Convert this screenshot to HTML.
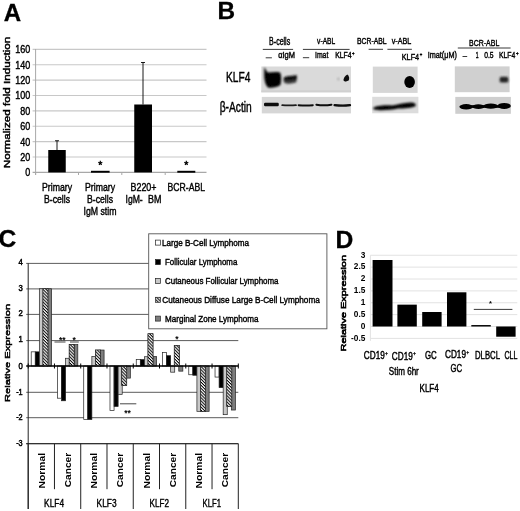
<!DOCTYPE html>
<html><head><meta charset="utf-8"><title>Figure</title>
<style>html,body{margin:0;padding:0;background:#fff;}svg{display:block;font-family:'Liberation Sans', sans-serif;}</style>
</head><body>
<svg width="520" height="511" viewBox="0 0 520 511">
<defs>
<pattern id="hatch" width="2.2" height="2.2" patternUnits="userSpaceOnUse" patternTransform="rotate(45)"><rect width="2.2" height="2.2" fill="#fff"/><rect width="2.2" height="1.0" fill="#000"/></pattern>
<filter id="gb2" x="-10%" y="-10%" width="120%" height="120%"><feGaussianBlur stdDeviation="0.28"/></filter>
<filter id="b1" x="-30%" y="-30%" width="160%" height="160%"><feGaussianBlur stdDeviation="1.1"/></filter>
<filter id="b2" x="-30%" y="-50%" width="160%" height="200%"><feGaussianBlur stdDeviation="0.7"/></filter>
<filter id="b3" x="-30%" y="-30%" width="160%" height="160%"><feGaussianBlur stdDeviation="1.8"/></filter>
<filter id="gb" x="0" y="0" width="100%" height="100%"><feGaussianBlur stdDeviation="0.45"/></filter>
</defs>
<rect width="520" height="511" fill="#fff"/>
<g filter="url(#gb)">
<rect width="520" height="511" fill="#fff"/>
<text x="3.8" y="21.01" font-size="23.5" text-anchor="start" font-weight="bold" textLength="17.4" lengthAdjust="spacingAndGlyphs" fill="#000" stroke="#000" stroke-width="0.3">A</text>
<text x="217.6" y="19.41" font-size="23.5" text-anchor="start" font-weight="bold" textLength="17.6" lengthAdjust="spacingAndGlyphs" fill="#000" stroke="#000" stroke-width="0.3">B</text>
<text x="-1.4" y="246.51" font-size="23.5" text-anchor="start" font-weight="bold" textLength="17.8" lengthAdjust="spacingAndGlyphs" fill="#000" stroke="#000" stroke-width="0.3">C</text>
<text x="335.4" y="247.61" font-size="23.5" text-anchor="start" font-weight="bold" textLength="17.8" lengthAdjust="spacingAndGlyphs" fill="#000" stroke="#000" stroke-width="0.3">D</text>
<line x1="32.6" y1="172.35" x2="206.5" y2="172.35" stroke="#a8a8a8" stroke-width="1.1"/>
<text x="25.2" y="176.29" font-size="11" text-anchor="start" textLength="5.0" lengthAdjust="spacingAndGlyphs" fill="#000" stroke="#000" stroke-width="0.42">0</text>
<line x1="32.6" y1="156.97" x2="206.5" y2="156.97" stroke="#c8c8c8" stroke-width="1.1"/>
<text x="20.2" y="160.91" font-size="11" text-anchor="start" textLength="10.0" lengthAdjust="spacingAndGlyphs" fill="#000" stroke="#000" stroke-width="0.42">20</text>
<line x1="32.6" y1="141.60" x2="206.5" y2="141.60" stroke="#c8c8c8" stroke-width="1.1"/>
<text x="20.2" y="145.54" font-size="11" text-anchor="start" textLength="10.0" lengthAdjust="spacingAndGlyphs" fill="#000" stroke="#000" stroke-width="0.42">40</text>
<line x1="32.6" y1="126.22" x2="206.5" y2="126.22" stroke="#c8c8c8" stroke-width="1.1"/>
<text x="20.2" y="130.16" font-size="11" text-anchor="start" textLength="10.0" lengthAdjust="spacingAndGlyphs" fill="#000" stroke="#000" stroke-width="0.42">60</text>
<line x1="32.6" y1="110.85" x2="206.5" y2="110.85" stroke="#c8c8c8" stroke-width="1.1"/>
<text x="20.2" y="114.79" font-size="11" text-anchor="start" textLength="10.0" lengthAdjust="spacingAndGlyphs" fill="#000" stroke="#000" stroke-width="0.42">80</text>
<line x1="32.6" y1="95.47" x2="206.5" y2="95.47" stroke="#c8c8c8" stroke-width="1.1"/>
<text x="15.2" y="99.41" font-size="11" text-anchor="start" textLength="15.0" lengthAdjust="spacingAndGlyphs" fill="#000" stroke="#000" stroke-width="0.42">100</text>
<line x1="32.6" y1="80.10" x2="206.5" y2="80.10" stroke="#c8c8c8" stroke-width="1.1"/>
<text x="15.2" y="84.04" font-size="11" text-anchor="start" textLength="15.0" lengthAdjust="spacingAndGlyphs" fill="#000" stroke="#000" stroke-width="0.42">120</text>
<line x1="32.6" y1="64.72" x2="206.5" y2="64.72" stroke="#c8c8c8" stroke-width="1.1"/>
<text x="15.2" y="68.66" font-size="11" text-anchor="start" textLength="15.0" lengthAdjust="spacingAndGlyphs" fill="#000" stroke="#000" stroke-width="0.42">140</text>
<line x1="32.6" y1="49.35" x2="206.5" y2="49.35" stroke="#c8c8c8" stroke-width="1.1"/>
<text x="15.2" y="53.29" font-size="11" text-anchor="start" textLength="15.0" lengthAdjust="spacingAndGlyphs" fill="#000" stroke="#000" stroke-width="0.42">160</text>
<line x1="35.6" y1="49" x2="35.6" y2="175" stroke="#a8a8a8" stroke-width="1"/>
<line x1="35.6" y1="172" x2="35.6" y2="175" stroke="#a8a8a8" stroke-width="1"/>
<line x1="78.5" y1="172" x2="78.5" y2="175" stroke="#a8a8a8" stroke-width="1"/>
<line x1="121.8" y1="172" x2="121.8" y2="175" stroke="#a8a8a8" stroke-width="1"/>
<line x1="165.2" y1="172" x2="165.2" y2="175" stroke="#a8a8a8" stroke-width="1"/>
<rect x="48.25" y="150.00" width="17.50" height="22.40" fill="#000"/>
<line x1="57" y1="140.75" x2="57" y2="150" stroke="#000" stroke-width="0.9"/>
<line x1="55" y1="140.75" x2="59" y2="140.75" stroke="#000" stroke-width="0.9"/>
<rect x="91.00" y="170.80" width="18.60" height="1.90" fill="#000"/>
<rect x="134.25" y="104.50" width="17.75" height="67.90" fill="#000"/>
<line x1="143" y1="62.5" x2="143" y2="104.5" stroke="#000" stroke-width="0.9"/>
<line x1="141" y1="62.5" x2="145" y2="62.5" stroke="#000" stroke-width="0.9"/>
<rect x="177.30" y="170.80" width="18.00" height="1.90" fill="#000"/>
<text x="100.4" y="168.86" font-size="10.5" text-anchor="middle" fill="#000" stroke="#000" stroke-width="0.5">*</text>
<text x="186.4" y="168.56" font-size="10.5" text-anchor="middle" fill="#000" stroke="#000" stroke-width="0.5">*</text>
<text transform="translate(10.04,168.2) rotate(-90)" font-size="8.2" textLength="131.5" lengthAdjust="spacingAndGlyphs" fill="#000" stroke="#000" stroke-width="0.42">Normalized fold Induction</text>
<text x="42" y="190.94" font-size="11" text-anchor="start" textLength="30" lengthAdjust="spacingAndGlyphs" fill="#000" stroke="#000" stroke-width="0.42">Primary</text>
<text x="44" y="203.14" font-size="11" text-anchor="start" textLength="26" lengthAdjust="spacingAndGlyphs" fill="#000" stroke="#000" stroke-width="0.42">B-cells</text>
<text x="85" y="190.94" font-size="11" text-anchor="start" textLength="30" lengthAdjust="spacingAndGlyphs" fill="#000" stroke="#000" stroke-width="0.42">Primary</text>
<text x="87" y="203.14" font-size="11" text-anchor="start" textLength="26" lengthAdjust="spacingAndGlyphs" fill="#000" stroke="#000" stroke-width="0.42">B-cells</text>
<text x="83.5" y="215.24" font-size="11" text-anchor="start" textLength="33" lengthAdjust="spacingAndGlyphs" fill="#000" stroke="#000" stroke-width="0.42">IgM stim</text>
<text x="130.5" y="190.64" font-size="11" text-anchor="start" textLength="26" lengthAdjust="spacingAndGlyphs" fill="#000" stroke="#000" stroke-width="0.42">B220+</text>
<text x="125.5" y="202.94" font-size="11" text-anchor="start" textLength="17.2" lengthAdjust="spacingAndGlyphs" fill="#000" stroke="#000" stroke-width="0.42">IgM-</text>
<text x="148" y="202.94" font-size="11" text-anchor="start" textLength="13.4" lengthAdjust="spacingAndGlyphs" fill="#000" stroke="#000" stroke-width="0.42">BM</text>
<text x="167.5" y="190.64" font-size="11" text-anchor="start" textLength="37.5" lengthAdjust="spacingAndGlyphs" fill="#000" stroke="#000" stroke-width="0.42">BCR-ABL</text>
<text x="269.1" y="44.68" font-size="10" text-anchor="start" textLength="21.1" lengthAdjust="spacingAndGlyphs" fill="#000" stroke="#000" stroke-width="0.42">B-cells</text>
<line x1="262.8" y1="49.4" x2="293.1" y2="49.4" stroke="#222" stroke-width="0.9"/>
<text x="317.1" y="43.79" font-size="9.2" text-anchor="start" textLength="18.1" lengthAdjust="spacingAndGlyphs" fill="#000" stroke="#000" stroke-width="0.42">v-ABL</text>
<line x1="302.9" y1="49.4" x2="349.6" y2="49.4" stroke="#222" stroke-width="0.9"/>
<line x1="265.7" y1="57.8" x2="271.9" y2="57.8" stroke="#222" stroke-width="0.9"/>
<text x="278.2" y="58.22" font-size="9" text-anchor="start" textLength="16.8" lengthAdjust="spacingAndGlyphs" fill="#000" stroke="#000" stroke-width="0.42">&#945;IgM</text>
<line x1="302.9" y1="57.7" x2="309.2" y2="57.7" stroke="#222" stroke-width="0.9"/>
<text x="315" y="58.02" font-size="9" text-anchor="start" textLength="13.3" lengthAdjust="spacingAndGlyphs" fill="#000" stroke="#000" stroke-width="0.42">Imat</text>
<text x="335.2" y="58.02" font-size="9" text-anchor="start" textLength="16.4" lengthAdjust="spacingAndGlyphs" fill="#000" stroke="#000" stroke-width="0.42">KLF4</text>
<text x="351.9" y="54.95" font-size="6" text-anchor="start" textLength="2.5" lengthAdjust="spacingAndGlyphs" fill="#000" stroke="#000" stroke-width="0.42">+</text>
<text x="357" y="44.29" font-size="9.2" text-anchor="start" textLength="29.6" lengthAdjust="spacingAndGlyphs" fill="#000" stroke="#000" stroke-width="0.42">BCR-ABL</text>
<line x1="368.6" y1="49.3" x2="383" y2="49.3" stroke="#222" stroke-width="0.9"/>
<text x="391.7" y="43.99" font-size="9.2" text-anchor="start" textLength="19.5" lengthAdjust="spacingAndGlyphs" fill="#000" stroke="#000" stroke-width="0.42">v-ABL</text>
<line x1="387.4" y1="49.3" x2="411.9" y2="49.3" stroke="#222" stroke-width="0.9"/>
<text x="401.8" y="59.59" font-size="9.2" text-anchor="start" textLength="17.3" lengthAdjust="spacingAndGlyphs" fill="#000" stroke="#000" stroke-width="0.42">KLF4</text>
<text x="419.8" y="56.05" font-size="6" text-anchor="start" textLength="2.5" lengthAdjust="spacingAndGlyphs" fill="#000" stroke="#000" stroke-width="0.42">+</text>
<text x="469.1" y="46.09" font-size="9.2" text-anchor="start" textLength="30.2" lengthAdjust="spacingAndGlyphs" fill="#000" stroke="#000" stroke-width="0.42">BCR-ABL</text>
<line x1="457.8" y1="48" x2="510.6" y2="48" stroke="#222" stroke-width="0.9"/>
<text x="427.7" y="58.39" font-size="9.2" text-anchor="start" textLength="29.2" lengthAdjust="spacingAndGlyphs" fill="#000" stroke="#000" stroke-width="0.42">Imat(&#956;M)</text>
<line x1="462.5" y1="56.5" x2="467.2" y2="56.5" stroke="#222" stroke-width="0.9"/>
<text x="475.7" y="58.39" font-size="9.2" text-anchor="start" textLength="2.8" lengthAdjust="spacingAndGlyphs" fill="#000" stroke="#000" stroke-width="0.42">1</text>
<text x="484.2" y="58.39" font-size="9.2" text-anchor="start" textLength="9.4" lengthAdjust="spacingAndGlyphs" fill="#000" stroke="#000" stroke-width="0.42">0.5</text>
<text x="498.9" y="58.39" font-size="9.2" text-anchor="start" textLength="16.4" lengthAdjust="spacingAndGlyphs" fill="#000" stroke="#000" stroke-width="0.42">KLF4</text>
<text x="515.9" y="55.25" font-size="6" text-anchor="start" textLength="2.6" lengthAdjust="spacingAndGlyphs" fill="#000" stroke="#000" stroke-width="0.42">+</text>
<text x="226.1" y="82.49" font-size="14.5" text-anchor="start" textLength="24.3" lengthAdjust="spacingAndGlyphs" fill="#000" stroke="#000" stroke-width="0.42">KLF4</text>
<text x="219.7" y="111.81" font-size="14" text-anchor="start" textLength="32.1" lengthAdjust="spacingAndGlyphs" fill="#000" stroke="#000" stroke-width="0.42">&#946;-Actin</text>
<rect x="261.30" y="66.50" width="89.70" height="25.80" fill="#dadada"/>
<rect x="261.80" y="96.90" width="89.20" height="16.50" fill="#d6d6d6"/>
<rect x="261.30" y="90.30" width="89.70" height="2.00" fill="#d0d0d0"/>
<g filter="url(#b1)">
<path d="M264.2,67.2 C265.6,68.5 266.6,72.2 268.2,72.6 C272,72.2 277,71.6 280,72.6 C281.6,75 281.4,82 280.4,85 C277,87.2 271,88.4 268,87.4 C265.4,85.4 264.4,80 264.2,76 Z" fill="#000"/>
<ellipse cx="272.6" cy="79.8" rx="7.6" ry="6.6" fill="#000"/>
</g>
<g filter="url(#b1)">
<path d="M283.6,77.4 C287,76 292,76.2 296.8,75.2 C297.2,78 296.6,81 296,82.6 C292,84 287,84 284.4,83 C283.4,81 283.2,79 283.6,77.4 Z" fill="#3a3a3a"/>
<path d="M284,77.4 C287,76 292,76.2 296.6,75.3 C296.8,77 296.6,78.6 296.2,79.6 C292,80.6 287.5,80.8 284.2,80.2 Z" fill="#0a0a0a"/>
</g>
<g filter="url(#b2)"><path d="M347.4,74.6 C349.2,76 349.8,79 348.6,80.6 C346.8,81.8 344.4,81.6 343.6,80.4 C343.2,78.6 345.4,75.6 347.4,74.6 Z" fill="#0a0a0a"/></g>
<g filter="url(#b1)"><ellipse cx="338.4" cy="79" rx="0.9" ry="1.3" fill="#999"/></g>
<g filter="url(#b2)">
<rect x="264.00" y="102.70" width="14.80" height="3.60" fill="#0c0c0c" rx="1.2"/>
<path d="M282.2,105.2 Q289.1,105.60000000000001 296,105.2" stroke="#1a1a1a" stroke-width="1.7" fill="none" stroke-linecap="round"/>
<path d="M298.6,105.15 Q305.70000000000005,105.85 312.8,105.15" stroke="#111" stroke-width="2.0" fill="none" stroke-linecap="round"/>
<path d="M316.4,104.75 Q323.9,105.85 331.4,104.75" stroke="#111" stroke-width="2.1" fill="none" stroke-linecap="round"/>
<path d="M334.6,105.2 Q342.3,106.2 350,105.2" stroke="#0c0c0c" stroke-width="2.3" fill="none" stroke-linecap="round"/>
</g>
<rect x="372.80" y="66.60" width="44.80" height="26.30" fill="#d6d6d6"/>
<rect x="372.20" y="96.80" width="46.20" height="16.50" fill="#dcdcdc"/>
<g filter="url(#b2)"><ellipse cx="409.6" cy="81.9" rx="5.3" ry="6" fill="#000"/></g>
<g filter="url(#b1)">
<path d="M373.6,107.4 C378,105.4 386,105.2 392,105.4 C398,105 404,102.2 412,102.6 C415,103 416.4,104.6 415.6,106 C412,108 404,108.4 398,108.6 C392,110 380,110.8 375,109.8 C373,109.2 372.8,108 373.6,107.4 Z" fill="#050505"/>
</g>
<rect x="454.80" y="66.40" width="54.80" height="25.80" fill="#d0d0d0"/>
<rect x="455.30" y="96.90" width="55.60" height="16.90" fill="#cecece"/>
<g filter="url(#b1)"><rect x="499.6" y="76.8" width="8.8" height="5.8" rx="2.2" fill="#202020"/></g>
<g filter="url(#b2)">
<ellipse cx="466.2" cy="106.8" rx="6.8" ry="2.7" fill="#000"/>
<ellipse cx="478.4" cy="106.6" rx="6.2" ry="2.4" fill="#000"/>
<ellipse cx="490.8" cy="106.2" rx="7.2" ry="2.6" fill="#000"/>
<ellipse cx="504.2" cy="105.9" rx="6.6" ry="3.0" fill="#000"/>
<rect x="464.00" y="105.20" width="42.00" height="2.60" fill="#000"/>
</g>
<line x1="26.2" y1="263.40" x2="238.3" y2="263.40" stroke="#4a4a4a" stroke-width="0.9"/>
<line x1="26.2" y1="288.90" x2="238.3" y2="288.90" stroke="#4a4a4a" stroke-width="0.9"/>
<line x1="26.2" y1="314.40" x2="238.3" y2="314.40" stroke="#4a4a4a" stroke-width="0.9"/>
<line x1="26.2" y1="340.60" x2="238.3" y2="340.60" stroke="#4a4a4a" stroke-width="0.9"/>
<line x1="26.2" y1="392.30" x2="238.3" y2="392.30" stroke="#4a4a4a" stroke-width="0.9"/>
<line x1="26.2" y1="417.70" x2="238.3" y2="417.70" stroke="#4a4a4a" stroke-width="0.9"/>
<line x1="26.2" y1="443.70" x2="238.3" y2="443.70" stroke="#4a4a4a" stroke-width="0.9"/>
<text x="18.4" y="265.23" font-size="9.3" text-anchor="start" textLength="4.3" lengthAdjust="spacingAndGlyphs" fill="#000" stroke="#000" stroke-width="0.5">4</text>
<text x="18.4" y="290.73" font-size="9.3" text-anchor="start" textLength="4.3" lengthAdjust="spacingAndGlyphs" fill="#000" stroke="#000" stroke-width="0.5">3</text>
<text x="18.4" y="316.23" font-size="9.3" text-anchor="start" textLength="4.3" lengthAdjust="spacingAndGlyphs" fill="#000" stroke="#000" stroke-width="0.5">2</text>
<text x="18.4" y="342.43" font-size="9.3" text-anchor="start" textLength="4.3" lengthAdjust="spacingAndGlyphs" fill="#000" stroke="#000" stroke-width="0.5">1</text>
<text x="18.4" y="368.53" font-size="9.3" text-anchor="start" textLength="4.3" lengthAdjust="spacingAndGlyphs" fill="#000" stroke="#000" stroke-width="0.5">0</text>
<text x="16.2" y="394.83" font-size="9.3" text-anchor="start" textLength="6.5" lengthAdjust="spacingAndGlyphs" fill="#000" stroke="#000" stroke-width="0.5">-1</text>
<text x="16.2" y="420.23" font-size="9.3" text-anchor="start" textLength="6.5" lengthAdjust="spacingAndGlyphs" fill="#000" stroke="#000" stroke-width="0.5">-2</text>
<text x="16.2" y="446.23" font-size="9.3" text-anchor="start" textLength="6.5" lengthAdjust="spacingAndGlyphs" fill="#000" stroke="#000" stroke-width="0.5">-3</text>
<line x1="28.2" y1="263.4" x2="28.2" y2="509" stroke="#222" stroke-width="1"/>
<rect x="31.20" y="351.84" width="4.07" height="14.16" fill="#fff" stroke="#222" stroke-width="0.7"/>
<rect x="35.27" y="351.84" width="4.07" height="14.16" fill="#000" stroke="#222" stroke-width="0.7"/>
<rect x="39.34" y="288.75" width="4.07" height="77.25" fill="#c8c8c8" stroke="#222" stroke-width="0.7"/>
<rect x="47.48" y="288.75" width="4.07" height="77.25" fill="#7d7d7d" stroke="#222" stroke-width="0.7"/>
<rect x="42.96" y="288.75" width="4.97" height="77.25" fill="#999" stroke="#222" stroke-width="0.7"/>
<rect x="57.46" y="366.00" width="4.07" height="32.19" fill="#fff" stroke="#222" stroke-width="0.7"/>
<rect x="61.53" y="366.00" width="4.07" height="34.76" fill="#000" stroke="#222" stroke-width="0.7"/>
<rect x="65.60" y="358.27" width="4.07" height="7.73" fill="#c8c8c8" stroke="#222" stroke-width="0.7"/>
<rect x="73.74" y="344.63" width="4.07" height="21.37" fill="#7d7d7d" stroke="#222" stroke-width="0.7"/>
<rect x="69.22" y="344.63" width="4.97" height="21.37" fill="#999" stroke="#222" stroke-width="0.7"/>
<rect x="83.73" y="366.00" width="4.07" height="53.56" fill="#fff" stroke="#222" stroke-width="0.7"/>
<rect x="87.80" y="366.00" width="4.07" height="53.56" fill="#000" stroke="#222" stroke-width="0.7"/>
<rect x="91.87" y="356.47" width="4.07" height="9.53" fill="#c8c8c8" stroke="#222" stroke-width="0.7"/>
<rect x="100.01" y="350.04" width="4.07" height="15.96" fill="#7d7d7d" stroke="#222" stroke-width="0.7"/>
<rect x="95.48" y="350.04" width="4.97" height="15.96" fill="#999" stroke="#222" stroke-width="0.7"/>
<rect x="109.99" y="366.00" width="4.07" height="44.55" fill="#fff" stroke="#222" stroke-width="0.7"/>
<rect x="114.06" y="366.00" width="4.07" height="40.43" fill="#000" stroke="#222" stroke-width="0.7"/>
<rect x="118.13" y="366.00" width="4.07" height="28.32" fill="#c8c8c8" stroke="#222" stroke-width="0.7"/>
<rect x="126.27" y="366.00" width="4.07" height="12.10" fill="#7d7d7d" stroke="#222" stroke-width="0.7"/>
<rect x="121.75" y="366.00" width="4.97" height="19.31" fill="#999" stroke="#222" stroke-width="0.7"/>
<rect x="136.25" y="359.56" width="4.07" height="6.44" fill="#fff" stroke="#222" stroke-width="0.7"/>
<rect x="140.32" y="359.56" width="4.07" height="6.44" fill="#000" stroke="#222" stroke-width="0.7"/>
<rect x="144.39" y="356.73" width="4.07" height="9.27" fill="#c8c8c8" stroke="#222" stroke-width="0.7"/>
<rect x="152.53" y="356.47" width="4.07" height="9.53" fill="#7d7d7d" stroke="#222" stroke-width="0.7"/>
<rect x="148.01" y="333.81" width="4.97" height="32.19" fill="#999" stroke="#222" stroke-width="0.7"/>
<rect x="162.51" y="352.61" width="4.07" height="13.39" fill="#fff" stroke="#222" stroke-width="0.7"/>
<rect x="166.58" y="355.70" width="4.07" height="10.30" fill="#000" stroke="#222" stroke-width="0.7"/>
<rect x="170.65" y="366.00" width="4.07" height="6.18" fill="#c8c8c8" stroke="#222" stroke-width="0.7"/>
<rect x="178.79" y="366.00" width="4.07" height="5.15" fill="#7d7d7d" stroke="#222" stroke-width="0.7"/>
<rect x="174.27" y="345.40" width="4.97" height="20.60" fill="#999" stroke="#222" stroke-width="0.7"/>
<rect x="188.78" y="366.00" width="4.07" height="8.75" fill="#fff" stroke="#222" stroke-width="0.7"/>
<rect x="192.84" y="366.00" width="4.07" height="9.27" fill="#000" stroke="#222" stroke-width="0.7"/>
<rect x="196.92" y="366.00" width="4.07" height="45.32" fill="#c8c8c8" stroke="#222" stroke-width="0.7"/>
<rect x="205.06" y="366.00" width="4.07" height="45.32" fill="#7d7d7d" stroke="#222" stroke-width="0.7"/>
<rect x="200.54" y="366.00" width="4.97" height="45.32" fill="#999" stroke="#222" stroke-width="0.7"/>
<rect x="215.04" y="366.00" width="4.07" height="11.07" fill="#fff" stroke="#222" stroke-width="0.7"/>
<rect x="219.11" y="366.00" width="4.07" height="21.63" fill="#000" stroke="#222" stroke-width="0.7"/>
<rect x="223.18" y="366.00" width="4.07" height="48.67" fill="#c8c8c8" stroke="#222" stroke-width="0.7"/>
<rect x="231.32" y="366.00" width="4.07" height="44.03" fill="#7d7d7d" stroke="#222" stroke-width="0.7"/>
<rect x="226.80" y="366.00" width="4.97" height="40.43" fill="#999" stroke="#222" stroke-width="0.7"/>
<line x1="26.2" y1="366" x2="238.3" y2="366" stroke="#000" stroke-width="1.5"/>
<line x1="28.20" y1="363.5" x2="28.20" y2="368.5" stroke="#000" stroke-width="1"/>
<line x1="54.46" y1="363.5" x2="54.46" y2="368.5" stroke="#000" stroke-width="1"/>
<line x1="80.73" y1="363.5" x2="80.73" y2="368.5" stroke="#000" stroke-width="1"/>
<line x1="106.99" y1="363.5" x2="106.99" y2="368.5" stroke="#000" stroke-width="1"/>
<line x1="133.25" y1="363.5" x2="133.25" y2="368.5" stroke="#000" stroke-width="1"/>
<line x1="159.51" y1="363.5" x2="159.51" y2="368.5" stroke="#000" stroke-width="1"/>
<line x1="185.78" y1="363.5" x2="185.78" y2="368.5" stroke="#000" stroke-width="1"/>
<line x1="212.04" y1="363.5" x2="212.04" y2="368.5" stroke="#000" stroke-width="1"/>
<line x1="238.30" y1="363.5" x2="238.30" y2="368.5" stroke="#000" stroke-width="1"/>
<line x1="26.2" y1="443.7" x2="238.3" y2="443.7" stroke="#222" stroke-width="1"/>
<line x1="28.20" y1="443.7" x2="28.20" y2="509" stroke="#222" stroke-width="1"/>
<line x1="54.46" y1="443.7" x2="54.46" y2="489.2" stroke="#222" stroke-width="1"/>
<line x1="80.73" y1="443.7" x2="80.73" y2="509" stroke="#222" stroke-width="1"/>
<line x1="106.99" y1="443.7" x2="106.99" y2="489.2" stroke="#222" stroke-width="1"/>
<line x1="133.25" y1="443.7" x2="133.25" y2="509" stroke="#222" stroke-width="1"/>
<line x1="159.51" y1="443.7" x2="159.51" y2="489.2" stroke="#222" stroke-width="1"/>
<line x1="185.78" y1="443.7" x2="185.78" y2="509" stroke="#222" stroke-width="1"/>
<line x1="212.04" y1="443.7" x2="212.04" y2="489.2" stroke="#222" stroke-width="1"/>
<line x1="238.30" y1="443.7" x2="238.30" y2="509" stroke="#222" stroke-width="1"/>
<text transform="translate(44.54,488.5) rotate(-90)" font-size="9.8" font-weight="bold" textLength="35.5" lengthAdjust="spacingAndGlyphs" fill="#000">Normal</text>
<text transform="translate(70.80,487.2) rotate(-90)" font-size="9.8" font-weight="bold" textLength="34.3" lengthAdjust="spacingAndGlyphs" fill="#000">Cancer</text>
<text transform="translate(97.06,488.5) rotate(-90)" font-size="9.8" font-weight="bold" textLength="35.5" lengthAdjust="spacingAndGlyphs" fill="#000">Normal</text>
<text transform="translate(123.33,487.2) rotate(-90)" font-size="9.8" font-weight="bold" textLength="34.3" lengthAdjust="spacingAndGlyphs" fill="#000">Cancer</text>
<text transform="translate(149.59,488.5) rotate(-90)" font-size="9.8" font-weight="bold" textLength="35.5" lengthAdjust="spacingAndGlyphs" fill="#000">Normal</text>
<text transform="translate(175.85,487.2) rotate(-90)" font-size="9.8" font-weight="bold" textLength="34.3" lengthAdjust="spacingAndGlyphs" fill="#000">Cancer</text>
<text transform="translate(202.11,488.5) rotate(-90)" font-size="9.8" font-weight="bold" textLength="35.5" lengthAdjust="spacingAndGlyphs" fill="#000">Normal</text>
<text transform="translate(228.38,487.2) rotate(-90)" font-size="9.8" font-weight="bold" textLength="34.3" lengthAdjust="spacingAndGlyphs" fill="#000">Cancer</text>
<text x="44.1" y="507.17" font-size="10.8" text-anchor="start" textLength="20" lengthAdjust="spacingAndGlyphs" fill="#000" stroke="#000" stroke-width="0.4">KLF4</text>
<text x="96.6" y="507.17" font-size="10.8" text-anchor="start" textLength="20" lengthAdjust="spacingAndGlyphs" fill="#000" stroke="#000" stroke-width="0.4">KLF3</text>
<text x="149.6" y="507.17" font-size="10.8" text-anchor="start" textLength="19.5" lengthAdjust="spacingAndGlyphs" fill="#000" stroke="#000" stroke-width="0.4">KLF2</text>
<text x="202.6" y="507.17" font-size="10.8" text-anchor="start" textLength="18.5" lengthAdjust="spacingAndGlyphs" fill="#000" stroke="#000" stroke-width="0.4">KLF1</text>
<text transform="translate(10.29,401.9) rotate(-90)" font-size="7.8" textLength="98" lengthAdjust="spacingAndGlyphs" fill="#000" stroke="#000" stroke-width="0.45">Relative Expression</text>
<text x="62.2" y="342.64" font-size="8.5" text-anchor="middle" font-weight="bold" fill="#000">**</text>
<line x1="54.5" y1="342" x2="65.5" y2="342" stroke="#333" stroke-width="0.9"/>
<text x="74.2" y="342.64" font-size="8.5" text-anchor="middle" font-weight="bold" fill="#000">*</text>
<line x1="70" y1="342" x2="78.8" y2="342" stroke="#333" stroke-width="0.9"/>
<text x="127.5" y="415.64" font-size="8.5" text-anchor="middle" font-weight="bold" fill="#000">**</text>
<line x1="120" y1="403.8" x2="136.3" y2="403.8" stroke="#333" stroke-width="0.9"/>
<text x="176.8" y="342.44" font-size="8.5" text-anchor="middle" font-weight="bold" fill="#000">*</text>
<rect x="148.70" y="233.80" width="178.20" height="95.00" fill="#fff" stroke="#555" stroke-width="0.9"/>
<rect x="155.60" y="240.10" width="4.80" height="5.00" fill="#fff" stroke="#222" stroke-width="0.7"/>
<text x="162" y="245.74" font-size="9.6" text-anchor="start" textLength="87" lengthAdjust="spacingAndGlyphs" fill="#000" stroke="#000" stroke-width="0.42">Large B-Cell Lymphoma</text>
<rect x="155.60" y="259.60" width="4.80" height="5.00" fill="#000" stroke="#222" stroke-width="0.7"/>
<text x="165" y="265.24" font-size="9.6" text-anchor="start" textLength="72.3" lengthAdjust="spacingAndGlyphs" fill="#000" stroke="#000" stroke-width="0.42">Follicular Lymphoma</text>
<rect x="155.60" y="278.40" width="4.80" height="5.00" fill="#c8c8c8" stroke="#222" stroke-width="0.7"/>
<text x="165" y="284.04" font-size="9.6" text-anchor="start" textLength="113.5" lengthAdjust="spacingAndGlyphs" fill="#000" stroke="#000" stroke-width="0.42">Cutaneous Follicular Lymphoma</text>
<rect x="155.60" y="297.30" width="4.80" height="5.00" fill="url(#hatch)" stroke="#222" stroke-width="0.7"/>
<text x="162.3" y="302.94" font-size="9.6" text-anchor="start" textLength="157.5" lengthAdjust="spacingAndGlyphs" fill="#000" stroke="#000" stroke-width="0.42">Cutaneous Diffuse Large B-Cell Lymphoma</text>
<rect x="155.60" y="316.10" width="4.80" height="5.00" fill="#7d7d7d" stroke="#222" stroke-width="0.7"/>
<text x="165" y="321.74" font-size="9.6" text-anchor="start" textLength="93.5" lengthAdjust="spacingAndGlyphs" fill="#000" stroke="#000" stroke-width="0.42">Marginal Zone Lymphoma</text>
<line x1="370.4" y1="255.25" x2="517.3" y2="255.25" stroke="#e2e2e2" stroke-width="1"/>
<text x="365.4" y="257.52" font-size="8.3" text-anchor="end" font-weight="bold" fill="#000">3</text>
<line x1="370.4" y1="267.12" x2="517.3" y2="267.12" stroke="#e2e2e2" stroke-width="1"/>
<text x="365.4" y="269.40" font-size="8.3" text-anchor="end" font-weight="bold" fill="#000">2.5</text>
<line x1="370.4" y1="279.00" x2="517.3" y2="279.00" stroke="#e2e2e2" stroke-width="1"/>
<text x="365.4" y="281.27" font-size="8.3" text-anchor="end" font-weight="bold" fill="#000">2</text>
<line x1="370.4" y1="290.88" x2="517.3" y2="290.88" stroke="#e2e2e2" stroke-width="1"/>
<text x="365.4" y="293.15" font-size="8.3" text-anchor="end" font-weight="bold" fill="#000">1.5</text>
<line x1="370.4" y1="302.75" x2="517.3" y2="302.75" stroke="#e2e2e2" stroke-width="1"/>
<text x="365.4" y="305.02" font-size="8.3" text-anchor="end" font-weight="bold" fill="#000">1</text>
<line x1="370.4" y1="314.62" x2="517.3" y2="314.62" stroke="#e2e2e2" stroke-width="1"/>
<text x="365.4" y="316.90" font-size="8.3" text-anchor="end" font-weight="bold" fill="#000">0.5</text>
<line x1="370.4" y1="326.50" x2="517.3" y2="326.50" stroke="#e2e2e2" stroke-width="1"/>
<text x="365.4" y="328.77" font-size="8.3" text-anchor="end" font-weight="bold" fill="#000">0</text>
<line x1="370.4" y1="338.38" x2="517.3" y2="338.38" stroke="#e2e2e2" stroke-width="1"/>
<text x="365.4" y="340.65" font-size="8.3" text-anchor="end" font-weight="bold" fill="#000">-0.5</text>
<line x1="370.4" y1="255.25" x2="370.4" y2="340.875" stroke="#e2e2e2" stroke-width="1"/>
<rect x="372.60" y="260.00" width="19.90" height="66.50" fill="#000"/>
<rect x="397.40" y="304.65" width="19.40" height="21.85" fill="#000"/>
<rect x="422.20" y="312.01" width="19.40" height="14.49" fill="#000"/>
<rect x="447.00" y="292.30" width="19.40" height="34.20" fill="#000"/>
<rect x="471.30" y="325.07" width="19.50" height="1.43" fill="#000"/>
<rect x="496.20" y="326.50" width="19.40" height="10.21" fill="#000"/>
<line x1="473.8" y1="309.4" x2="512.4" y2="309.4" stroke="#222" stroke-width="0.9"/>
<text x="490.5" y="306.29" font-size="7.5" text-anchor="middle" font-weight="bold" fill="#000">*</text>
<text transform="translate(345.93,351.5) rotate(-90)" font-size="7.9" textLength="96.5" lengthAdjust="spacingAndGlyphs" fill="#000" stroke="#000" stroke-width="0.55">Relative Expression</text>
<text x="363.8" y="358.88" font-size="11.4" text-anchor="start" textLength="21" lengthAdjust="spacingAndGlyphs" fill="#000" stroke="#000" stroke-width="0.45">CD19</text>
<text x="385.1" y="354.55" font-size="6" text-anchor="start" textLength="3.0" lengthAdjust="spacingAndGlyphs" fill="#000" stroke="#000" stroke-width="0.3">+</text>
<text x="391.8" y="359.58" font-size="11.4" text-anchor="start" textLength="21" lengthAdjust="spacingAndGlyphs" fill="#000" stroke="#000" stroke-width="0.45">CD19</text>
<text x="413.1" y="355.25" font-size="6" text-anchor="start" textLength="3.0" lengthAdjust="spacingAndGlyphs" fill="#000" stroke="#000" stroke-width="0.3">+</text>
<text x="425" y="358.88" font-size="11.4" text-anchor="start" textLength="11.8" lengthAdjust="spacingAndGlyphs" fill="#000" stroke="#000" stroke-width="0.45">GC</text>
<text x="445" y="358.28" font-size="11.4" text-anchor="start" textLength="21" lengthAdjust="spacingAndGlyphs" fill="#000" stroke="#000" stroke-width="0.45">CD19</text>
<text x="466.3" y="353.95" font-size="6" text-anchor="start" textLength="3.0" lengthAdjust="spacingAndGlyphs" fill="#000" stroke="#000" stroke-width="0.3">+</text>
<text x="475" y="358.68" font-size="11.4" text-anchor="start" textLength="25" lengthAdjust="spacingAndGlyphs" fill="#000" stroke="#000" stroke-width="0.45">DLBCL</text>
<text x="504.4" y="358.68" font-size="11.4" text-anchor="start" textLength="13" lengthAdjust="spacingAndGlyphs" fill="#000" stroke="#000" stroke-width="0.45">CLL</text>
<text x="388.8" y="375.38" font-size="11.4" text-anchor="start" textLength="30" lengthAdjust="spacingAndGlyphs" fill="#000" stroke="#000" stroke-width="0.45">Stim 6hr</text>
<text x="450.5" y="372.08" font-size="11.4" text-anchor="start" textLength="11.6" lengthAdjust="spacingAndGlyphs" fill="#000" stroke="#000" stroke-width="0.45">GC</text>
<text x="419.5" y="392.08" font-size="11.4" text-anchor="start" textLength="19.3" lengthAdjust="spacingAndGlyphs" fill="#000" stroke="#000" stroke-width="0.45">KLF4</text>
</g>
<g filter="url(#gb2)">
<rect x="42.96" y="288.75" width="4.97" height="76.45" fill="url(#hatch)" stroke="#222" stroke-width="0.6"/>
<rect x="69.22" y="344.63" width="4.97" height="20.57" fill="url(#hatch)" stroke="#222" stroke-width="0.6"/>
<rect x="95.48" y="350.04" width="4.97" height="15.16" fill="url(#hatch)" stroke="#222" stroke-width="0.6"/>
<rect x="121.75" y="366.80" width="4.97" height="18.51" fill="url(#hatch)" stroke="#222" stroke-width="0.6"/>
<rect x="148.01" y="333.81" width="4.97" height="31.39" fill="url(#hatch)" stroke="#222" stroke-width="0.6"/>
<rect x="174.27" y="345.40" width="4.97" height="19.80" fill="url(#hatch)" stroke="#222" stroke-width="0.6"/>
<rect x="200.54" y="366.80" width="4.97" height="44.52" fill="url(#hatch)" stroke="#222" stroke-width="0.6"/>
<rect x="226.80" y="366.80" width="4.97" height="39.63" fill="url(#hatch)" stroke="#222" stroke-width="0.6"/>
</g>
</svg></body></html>
